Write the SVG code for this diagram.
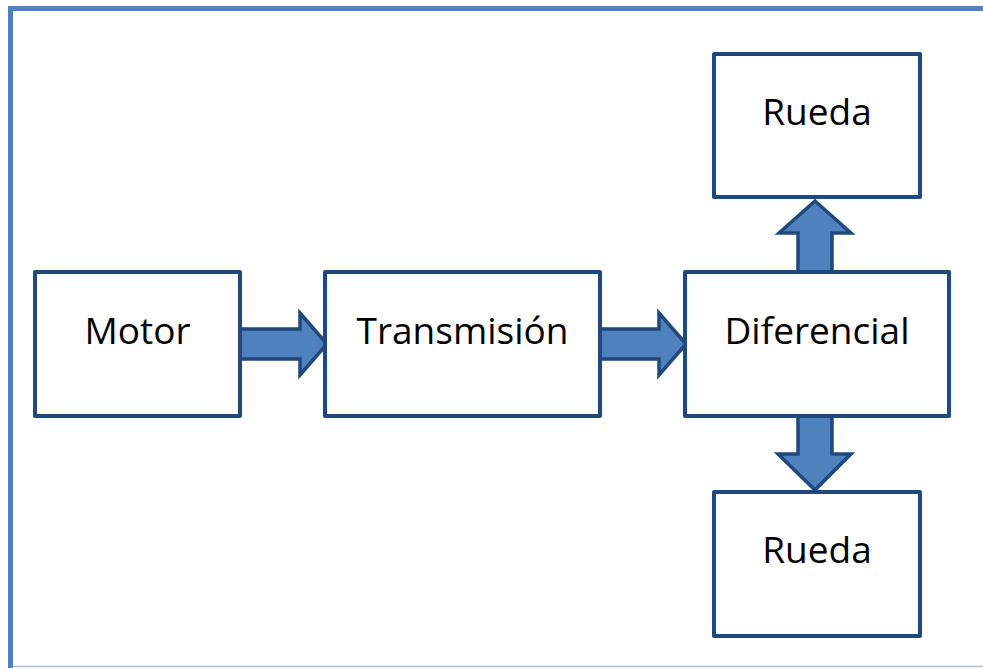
<svg xmlns="http://www.w3.org/2000/svg" width="983" height="668" viewBox="0 0 983 668">
<style>
.box{fill:#ffffff;stroke:#1F497D;stroke-width:4;stroke-linejoin:round}
.arr{fill:#4F81BD;stroke:#1F497D;stroke-width:3.5;stroke-linejoin:miter}
.lbl{font-family:"Open Sans","Liberation Sans",sans-serif;font-size:37px;fill:#000000;text-anchor:middle}
</style>
<rect width="983" height="668" fill="#ffffff"/>
<g id="frame">
<path d="M10.5,668 L10.5,8.5 L983,8.5" fill="none" stroke="#4F81BD" stroke-width="5"/>
<line x1="13" y1="666.5" x2="983" y2="666.5" stroke="#A7BFDE" stroke-width="1.5"/>
</g>
<g id="connectors">
<path class="arr" d="M239,329 L300,329 L300,313 L327,344 L300,375 L300,359 L239,359 Z"/>
<path class="arr" d="M599,329 L659,329 L659,313 L686,344 L659,375 L659,359 L599,359 Z"/>
<path class="arr" d="M798,273 L798,233 L779,233 L815,201 L851,233 L832,233 L832,273 Z"/>
<path class="arr" d="M798,415 L798,454 L778,454 L815,490 L851,454 L832,454 L832,415 Z"/>
</g>
<g id="motor">
<rect class="box" x="35" y="272" width="205" height="144"/>
<text class="lbl" x="137.5" y="344">Motor</text>
</g>
<g id="transmision">
<rect class="box" x="325" y="272" width="275" height="144"/>
<text class="lbl" x="462.5" y="344">Transmisión</text>
</g>
<g id="diferencial">
<rect class="box" x="685" y="272" width="264" height="144"/>
<text class="lbl" x="817" y="344">Diferencial</text>
</g>
<g id="rueda-top">
<rect class="box" x="714" y="54" width="206" height="143"/>
<text class="lbl" x="817" y="125">Rueda</text>
</g>
<g id="rueda-bottom">
<rect class="box" x="714" y="492" width="206" height="144"/>
<text class="lbl" x="817" y="563">Rueda</text>
</g>
</svg>
